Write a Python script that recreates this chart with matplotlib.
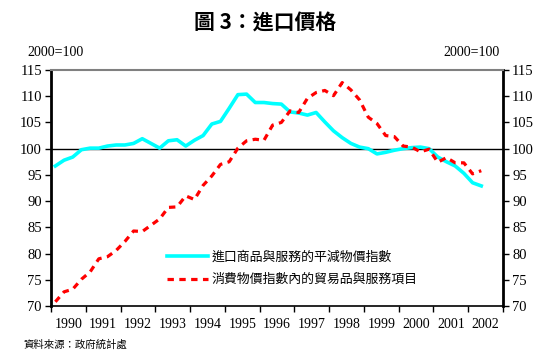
import matplotlib
matplotlib.use('Agg')
import matplotlib.pyplot as plt
from matplotlib.ticker import FixedLocator, NullFormatter, FixedFormatter

plt.rcParams['font.family'] = ['Liberation Serif', 'Noto Sans CJK TC']

# 季度數據 1990Q1 - 2002Q2
years = ['1990', '1991', '1992', '1993', '1994', '1995', '1996',
         '1997', '1998', '1999', '2000', '2001', '2002']

import_deflator = [96.7, 97.8, 98.4, 99.8, 100.1, 100.1, 100.5, 100.7, 100.7, 101.0,
                   101.9, 101.0, 100.1, 101.5, 101.7, 100.5, 101.6, 102.5, 104.7, 105.2,
                   107.7, 110.3, 110.4, 108.8, 108.8, 108.6, 108.5, 107.0, 106.8, 106.4,
                   106.9, 105.1, 103.4, 102.1, 101.0, 100.3, 100.0, 99.0, 99.3, 99.7,
                   100.0, 100.2, 100.3, 100.0, 98.4, 97.5, 96.7, 95.3, 93.5, 92.9]

cpi_tradables = [70.8, 72.7, 73.2, 75.1, 76.5, 79.0, 79.4, 80.6, 82.3, 84.3,
                 84.2, 85.4, 86.6, 88.8, 88.9, 91.0, 90.3, 93.0, 94.8, 97.0,
                 97.5, 100.1, 101.5, 101.8, 101.6, 104.5, 105.0, 107.2, 106.9, 109.6,
                 110.7, 111.1, 110.1, 112.6, 111.2, 109.3, 106.0, 104.8, 102.5, 102.3,
                 100.5, 100.3, 99.4, 99.9, 97.4, 98.3, 97.3, 97.3, 95.2, 95.8]

labels = ['進口商品與服務的平減物價指數', '消費物價指數內的貿易品與服務項目']

fig = plt.figure(figsize=(5.48, 3.61), dpi=100)
ax = fig.add_axes([51/548, 1-306/361, 452/548, 236/361])

x = list(range(len(import_deflator)))
ax.plot(x, import_deflator, color='#00FFFF', linewidth=2.6, label=labels[0], zorder=3)
ax.plot(x, cpi_tradables, color='#FF0000', linewidth=2.3, dashes=(2.0, 1.7),
        dash_capstyle='butt', label=labels[1], zorder=4)
ax.axhline(100, color='black', linewidth=1.0, zorder=2)

ax.set_xlim(-0.5, 4*len(years) - 0.5)
ax.set_ylim(70, 115)
ax.set_yticks(range(70, 116, 5))

# 年份刻度
ax.xaxis.set_major_locator(FixedLocator([4*i - 0.5 for i in range(len(years)+1)]))
ax.xaxis.set_major_formatter(NullFormatter())
ax.xaxis.set_minor_locator(FixedLocator([4*i + 1.5 for i in range(len(years))]))
ax.xaxis.set_minor_formatter(FixedFormatter(years))
ax.tick_params(axis='x', which='major', direction='out', length=4, width=1.0, color='black')
ax.tick_params(axis='x', which='minor', length=0, pad=9, labelsize=10)
ax.tick_params(axis='y', direction='out', length=4, width=1.0, labelsize=10.5, pad=2.5,
               left=True, right=True, labelleft=True, labelright=True)

for side in ['left', 'right', 'bottom']:
    ax.spines[side].set_color('black')
ax.spines['left'].set_linewidth(2.0)
ax.spines['right'].set_linewidth(2.0)
ax.spines['bottom'].set_linewidth(1.2)
ax.spines['top'].set_color('#808080')
ax.spines['top'].set_linewidth(1.5)

leg = ax.legend(loc='upper left', bbox_to_anchor=(0.2566, 0.235), frameon=False,
                borderpad=0, borderaxespad=0, handlelength=3.2, handletextpad=0.25,
                labelspacing=0.75, prop={'family': ['Noto Sans CJK TC'], 'size': 9.3})

fig.text(0.484, 1-23/361, '圖 3：進口價格', ha='center', va='center', fontsize=15,
         fontweight='bold', family=['Noto Sans CJK TC'])
fig.text(27/548, 1-53/361, '2000=100', ha='left', va='center', fontsize=10)
fig.text(500/548, 1-53/361, '2000=100', ha='right', va='center', fontsize=10)
fig.text(23/548, 1-345/361, '資料來源：政府統計處', ha='left', va='center', fontsize=7.5,
         family=['Noto Sans CJK TC'])

fig.savefig('out.png', dpi=100)
